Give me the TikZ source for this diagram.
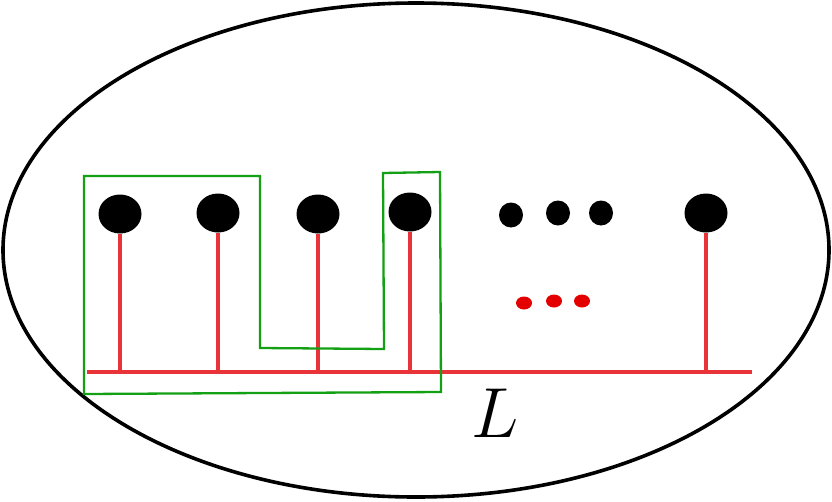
\documentclass[tikz,border=0pt]{standalone}
\usetikzlibrary{shapes.geometric}
\definecolor{wire}{RGB}{232,52,56}
\definecolor{reddot}{RGB}{228,0,0}
\definecolor{grp}{RGB}{20,160,20}
\tikzset{
  bigdot/.style={ellipse,fill=black,inner sep=0pt,minimum width=43pt,minimum height=39pt},
  smalldot/.style={ellipse,fill=black,inner sep=0pt,minimum width=24pt,minimum height=25pt},
  rdot/.style={ellipse,fill=reddot,inner sep=0pt,minimum width=16pt,minimum height=13pt},
  wireline/.style={draw=wire,line width=3.3pt},
  grpline/.style={draw=grp,line width=2.3pt,line join=miter},
}
\begin{document}
\begin{tikzpicture}[x=1pt,y=-1pt]
\useasboundingbox (0,0) rectangle (832,501);
\node[draw=black,line width=3.6pt,ellipse,minimum width=826pt,minimum height=494pt,inner sep=0pt] (outer) at (416,250) {};
% red base line
\coordinate (ls) at (87,372);
\coordinate (le) at (752,372);
\draw[wireline] (ls) -- (le);
% big dots
\node[bigdot] (d1) at (120,214) {};
\node[bigdot] (d2) at (218,213) {};
\node[bigdot] (d3) at (318,214) {};
\node[bigdot] (d4) at (410,212) {};
\node[bigdot] (d5) at (706,213) {};
\foreach \d in {d1,d2,d3,d4,d5}{
  \draw[wireline] (\d.south) -- (\d.south |- ls);
}
% small black dots
\node[smalldot] (s1) at (511,215) {};
\node[smalldot] (s2) at (558,213) {};
\node[smalldot] (s3) at (601,213) {};
% red dots
\node[rdot] (r1) at (524,303) {};
\node[rdot] (r2) at (554,301) {};
\node[rdot] (r3) at (582,301) {};
% green group outline
\draw[grpline] (84,176) -- (260,176) -- (260,348) -- (384,349) -- (383,173) -- (440,172) -- (441,392) -- (84,394) -- cycle;
% label
\node[inner sep=0pt,font=\Huge,scale=2.85] (lab) at (495,413) {$L$};
\end{tikzpicture}
\end{document}
